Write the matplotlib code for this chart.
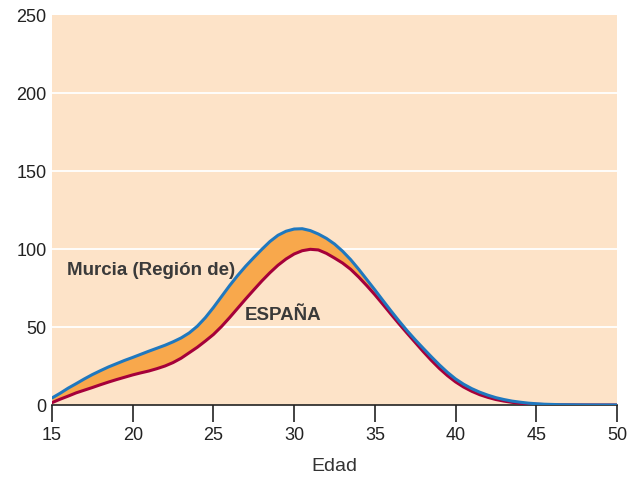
import matplotlib
matplotlib.use("Agg")
import matplotlib.pyplot as plt

edad = [15 + 0.5 * i for i in range(71)]
murcia = [4.5, 7.5, 10.8, 13.7, 16.7, 19.5, 22, 24.4, 26.5, 28.6,
          30.5, 32.5, 34.5, 36.4, 38.3, 40.5, 43, 46.2, 50.5, 56,
          62.5, 69.5, 76.5, 83, 89, 94.5, 99.8, 104.8, 108.8, 111.4,
          112.8, 113, 111.8, 109.6, 106.8, 103.2, 98.6, 93.2, 87, 80.4,
          73.8, 67, 60.3, 53.8, 47.6, 41.8, 36.3, 30.9, 25.7, 20.9,
          16.7, 13.3, 10.5, 8.2, 6.3, 4.7, 3.5, 2.5, 1.8, 1.2,
          0.8, 0.5, 0.35, 0.2, 0.15, 0.1, 0.05, 0.03, 0.02, 0.01, 0]
espana = [1.5, 3.7, 5.7, 7.8, 9.5, 11.2, 13, 14.7, 16.3, 17.8,
          19.3, 20.6, 21.8, 23.3, 25, 27.2, 30, 33.5, 37, 41,
          45.2, 50.3, 56, 62, 68, 73.8, 79.5, 84.8, 89.6, 93.6,
          96.8, 98.9, 99.8, 99.4, 97.2, 94.2, 91, 87, 82, 76.5,
          70.7, 64.5, 58.2, 52, 46, 40.1, 34.2, 28.6, 23.4, 18.8,
          14.8, 11.5, 8.8, 6.6, 4.9, 3.5, 2.5, 1.7, 1.1, 0.7,
          0.45, 0.28, 0.17, 0.1, 0.08, 0.05, 0.03, 0.02, 0.01, 0.01, 0]
xticks = [15, 20, 25, 30, 35, 40, 45, 50]
yticks = [0, 50, 100, 150, 200, 250]

plt.rcParams['font.family'] = ['Liberation Sans', 'DejaVu Sans']

fig = plt.figure(figsize=(6.3, 4.81), dpi=100)
ax = fig.add_axes([52/630, 1-406/481, (617-52)/630, (406-16)/481])
ax.set_facecolor('#fde3c8')
ax.set_xlim(15, 50)
ax.set_ylim(0, 250)

for y in [50, 100, 150, 200]:
    ax.axhline(y, color='white', lw=1.3, zorder=1)

ax.fill_between(edad, espana, murcia, color='#f8a84c', zorder=2, lw=0)
ax.plot(edad, espana, color='#a5003a', lw=2.2, zorder=3, solid_capstyle='round',
        solid_joinstyle='round')
ax.plot(edad, murcia, color='#1f78bf', lw=2.2, zorder=4, solid_capstyle='round',
        solid_joinstyle='round')

for s in ['top', 'right', 'left']:
    ax.spines[s].set_visible(False)
ax.spines['bottom'].set_color('#222222')
ax.spines['bottom'].set_linewidth(1.2)

ax.set_xticks(xticks)
ax.set_yticks(yticks)
ax.tick_params(axis='x', length=12, width=1.2, color='#222222', labelsize=13,
               labelcolor='#222222', pad=3)
ax.tick_params(axis='y', length=0, labelsize=13, labelcolor='#222222', pad=4)

ax.set_xlabel('Edad', fontsize=14, color='#333333', labelpad=10)

ax.text(15.93, 87, 'Murcia (Región de)', fontsize=13.5, fontweight='bold',
        color='#3a3a3a', va='center', ha='left', zorder=5)
ax.text(26.95, 58, 'ESPAÑA', fontsize=13.5, fontweight='bold',
        color='#3a3a3a', va='center', ha='left', zorder=5)

fig.savefig('out.png', dpi=100)
